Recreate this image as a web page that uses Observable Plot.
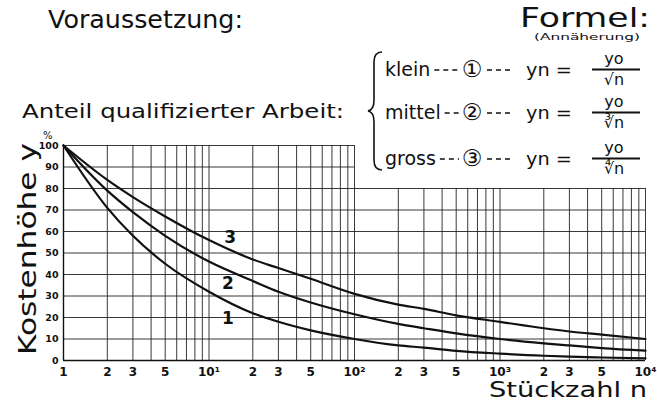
<!DOCTYPE html>
<html><head><meta charset="utf-8">
<script src="https://cdn.jsdelivr.net/npm/d3@7"></script>
<script src="https://cdn.jsdelivr.net/npm/@observablehq/plot@0.6"></script>
<style>body{margin:0;background:#fff} svg{display:block}</style>
</head><body><div id="chart"></div>
<script>
// Stückzahl n (log scale) and cost height y (%)
const stueckzahl = [1, 2, 3, 5, 10, 20, 30, 50, 100, 200, 300, 500, 1000, 2000, 3000, 5000, 10000];
const kurve1 = [100, 71, 58, 45, 32, 22, 18, 14, 10, 7, 6, 4.5, 3.2, 2.2, 1.8, 1.4, 1.0];
const kurve2 = [100, 79, 69, 58, 46, 37, 32, 27, 21.5, 17, 15, 12.6, 10, 8, 7, 5.8, 4.6];
const kurve3 = [100, 84, 76, 67, 56, 47, 43, 38, 31, 26, 24, 21, 18, 15, 13.5, 12, 10];

const xTickValues = [1, 2, 3, 5, 10, 20, 30, 50, 100, 200, 300, 500, 1000, 2000, 3000, 5000, 10000];
const xTickLabels = ["1", "2", "3", "5", "10¹", "2", "3", "5", "10²", "2", "3", "5", "10³", "2", "3", "5", "10⁴"];
const yTickValues = [0, 10, 20, 30, 40, 50, 60, 70, 80, 90, 100];

const curveLabels = ["1", "2", "3"];
const curveLabelX = [13.5, 13.5, 14];
const curveLabelY = [19.5, 36, 57];

const rows = [
  {label: "klein", circ: "①", root: "√n"},
  {label: "mittel", circ: "②", root: "∛n"},
  {label: "gross", circ: "③", root: "∜n"}
];

// build tables
const series = [kurve1, kurve2, kurve3];
const lineData = series.flatMap((s, k) => s.map((v, i) => ({n: stueckzahl[i], y: v, k: curveLabels[k]})));
const labelData = curveLabels.map((t, i) => ({t, x: curveLabelX[i], y: curveLabelY[i]}));
const gridX = [];
for (const d of [1, 10, 100, 1000]) for (let k = 1; k <= 9; k++) gridX.push(k * d);
gridX.push(10000);
const tickLabel = new Map(xTickValues.map((v, i) => [v, xTickLabels[i]]));

const FONT = "DejaVu Sans";
const chart = Plot.plot({
  width: 657, height: 405,
  marginLeft: 63, marginRight: 12, marginTop: 145, marginBottom: 45,
  style: {fontFamily: FONT, background: "#fff", color: "#111"},
  x: {type: "log", domain: [1, 10000], axis: null},
  y: {domain: [0, 100]},
  marks: [
    Plot.ruleX(gridX, {x: d => d, y1: 0, y2: d => d <= 100 ? 100 : 80, stroke: "#222", strokeWidth: 0.9}),
    Plot.ruleY(yTickValues, {y: d => d, x1: 1, x2: d => d <= 80 ? 10000 : 100, stroke: "#222", strokeWidth: 0.9}),
    Plot.ruleY([0], {x1: 1, x2: 10000, stroke: "#111", strokeWidth: 1.4}),
    Plot.ruleX([1], {y1: 0, y2: 100, stroke: "#111", strokeWidth: 1.4}),
    Plot.line(lineData, {x: "n", y: "y", z: "k", stroke: "#111", strokeWidth: 2.2, curve: "monotone-x"}),
    Plot.text(labelData, {x: "x", y: "y", text: "t", fontSize: 17, fontWeight: 600, fill: "#111"}),
    Plot.text(xTickValues, {x: d => d, frameAnchor: "bottom", dy: 15, text: d => tickLabel.get(d), fontSize: 12, fontWeight: "bold", fill: "#111"}),
    Plot.axisY({ticks: yTickValues, tickSize: 0, tickPadding: 5, fontSize: 9.5, fontWeight: "bold", label: null})
  ]
});
document.getElementById("chart").appendChild(chart);

const svg = d3.select(chart);
const g = svg.append("g").attr("font-family", FONT).attr("fill", "#111");
function txt(s, x, y, size, opts = {}) {
  const t = g.append("text").attr("x", x).attr("y", y).attr("font-size", size).text(s);
  t.attr("text-anchor", opts.anchor || "start");
  if (opts.len) t.attr("textLength", opts.len).attr("lengthAdjust", "spacingAndGlyphs");
  if (opts.weight) t.attr("font-weight", opts.weight);
  if (opts.transform) t.attr("transform", opts.transform);
  return t;
}
function dashes(x1, x2, y) {
  g.append("line").attr("x1", x1).attr("x2", x2).attr("y1", y).attr("y2", y)
    .attr("stroke", "#111").attr("stroke-width", 1.6).attr("stroke-dasharray", "5,4");
}
txt("Voraussetzung:", 48, 28, 25, {len: 195});
txt("Formel:", 520, 27, 27, {len: 130});
txt("(Annäherung)", 534, 40, 9, {len: 106});
txt("Anteil qualifizierter Arbeit:", 22, 118, 20, {len: 322});
txt("%", 43, 139, 10);
txt("Kostenhöhe y", 0, 0, 24, {len: 212, transform: "translate(36,355) rotate(-90)"});
txt("Stückzahl n", 489, 397, 22, {len: 158});

// brace
g.append("path")
  .attr("d", "M382,52 Q374,52 374,62 L374,100 Q374,110 368,111 Q374,112 374,122 L374,160 Q374,170 382,170")
  .attr("fill", "none").attr("stroke", "#111").attr("stroke-width", 1.6);

const rowBase = [76, 119, 165];
rows.forEach((r, i) => {
  const b = rowBase[i];
  const lab = txt(r.label, 385, b, 19);
  const endX = 385 + lab.node().getComputedTextLength() + 4;
  dashes(endX, 459, b - 6);
  txt(r.circ, 472, b + 1, 23, {anchor: "middle"});
  dashes(487, 512, b - 6);
  txt("yn =", 526, b, 17, {len: 46});
  txt("yo", 614, b - 12, 16, {anchor: "middle"});
  g.append("line").attr("x1", 592).attr("x2", 640).attr("y1", b - 6.5).attr("y2", b - 6.5).attr("stroke", "#111").attr("stroke-width", 2);
  txt(r.root, 614, b + 9, 16, {anchor: "middle"});
});
</script></body></html>
